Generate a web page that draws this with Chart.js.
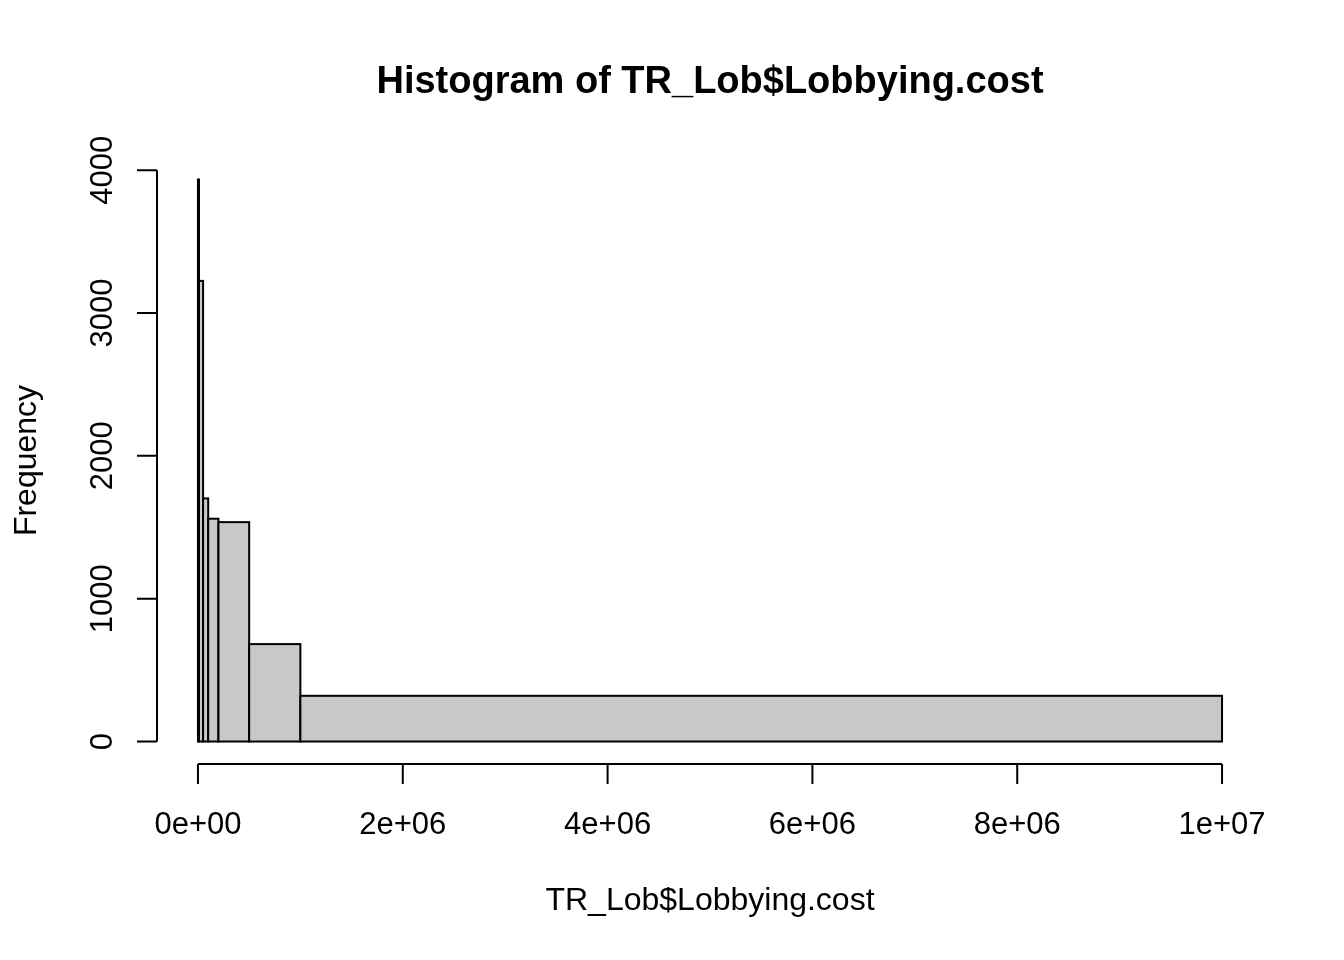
<!DOCTYPE html>
<html>
<head>
<meta charset="utf-8">
<script src="https://cdn.jsdelivr.net/npm/chart.js@4.4.0/dist/chart.umd.min.js"></script>
<style>
  html, body { margin: 0; padding: 0; background: #fff; }
  #wrap { width: 1344px; height: 960px; }
</style>
</head>
<body>
<div id="wrap"><canvas id="hist"></canvas></div>
<script>
// histogram of lobbying cost, unequal breaks (R hist style)
const breaks = [0, 10000, 50000, 100000, 200000, 500000, 1000000, 10000000];
const counts = [3935, 3225, 1702, 1560, 1536, 682, 320];
const xTicks = [0, 2e6, 4e6, 6e6, 8e6, 1e7];
const xTickLabels = ['0e+00', '2e+06', '4e+06', '6e+06', '8e+06', '1e+07'];
const yTicks = [0, 1000, 2000, 3000, 4000];

const mainTitle = 'Histogram of TR_Lob$Lobbying.cost';
const xTitle = 'TR_Lob$Lobbying.cost';
const yTitle = 'Frequency';

const FONT = '"Liberation Sans", Arial, Helvetica, sans-serif';

// R pads the range by 4% on each side
const xMin = breaks[0], xMax = breaks[breaks.length - 1];
const yMax = Math.max(...counts);
const xPad = (xMax - xMin) * 0.04, yPad = yMax * 0.04;

const histPlugin = {
    id: 'rhist',
    beforeDatasetsDraw(chart) {
        const {ctx, scales: {x, y}} = chart;
        ctx.save();
        ctx.fillStyle = '#c8c8c8';
        ctx.strokeStyle = '#000';
        ctx.lineWidth = 2;
        for (let i = 0; i < counts.length; i++) {
            const x0 = x.getPixelForValue(breaks[i]);
            const x1 = x.getPixelForValue(breaks[i + 1]);
            const y0 = y.getPixelForValue(0);
            const y1 = y.getPixelForValue(counts[i]);
            ctx.fillRect(x0, y1, x1 - x0, y0 - y1);
            ctx.strokeRect(x0, y1, x1 - x0, y0 - y1);
        }
        ctx.restore();
    },
    afterDraw(chart) {
        const {ctx, chartArea: area, scales: {x, y}} = chart;
        ctx.save();
        ctx.strokeStyle = '#000';
        ctx.fillStyle = '#000';
        ctx.lineWidth = 2;
        const tickLen = 20;

        // x axis
        const axY = area.bottom;
        ctx.beginPath();
        ctx.moveTo(x.getPixelForValue(xTicks[0]), axY);
        ctx.lineTo(x.getPixelForValue(xTicks[xTicks.length - 1]), axY);
        xTicks.forEach(v => {
            const px = x.getPixelForValue(v);
            ctx.moveTo(px, axY);
            ctx.lineTo(px, axY + tickLen);
        });
        ctx.stroke();
        ctx.font = '31px ' + FONT;
        ctx.textAlign = 'center';
        ctx.textBaseline = 'alphabetic';
        xTicks.forEach((v, i) => ctx.fillText(xTickLabels[i], x.getPixelForValue(v), 834));

        // y axis
        const axX = area.left;
        ctx.beginPath();
        ctx.moveTo(axX, y.getPixelForValue(yTicks[0]));
        ctx.lineTo(axX, y.getPixelForValue(yTicks[yTicks.length - 1]));
        yTicks.forEach(v => {
            const py = y.getPixelForValue(v);
            ctx.moveTo(axX, py);
            ctx.lineTo(axX - tickLen, py);
        });
        ctx.stroke();
        yTicks.forEach(v => {
            ctx.save();
            ctx.translate(112, y.getPixelForValue(v));
            ctx.rotate(-Math.PI / 2);
            ctx.fillText(String(v), 0, 0);
            ctx.restore();
        });

        // titles
        const midX = (area.left + area.right) / 2;
        ctx.font = 'bold 38px ' + FONT;
        ctx.fillText(mainTitle, midX, 93);
        ctx.font = '32px ' + FONT;
        ctx.fillText(xTitle, midX, 910);
        ctx.save();
        ctx.translate(36, (area.top + area.bottom) / 2);
        ctx.rotate(-Math.PI / 2);
        ctx.fillText(yTitle, 0, 0);
        ctx.restore();
        ctx.restore();
    }
};

new Chart(document.getElementById('hist'), {
    type: 'scatter',
    data: { datasets: [{ data: [] }] },
    options: {
        responsive: true,
        maintainAspectRatio: false,
        animation: false,
        events: [],
        layout: { padding: { left: 157, right: 81, top: 157, bottom: 196 } },
        plugins: { legend: { display: false }, tooltip: { enabled: false } },
        scales: {
            x: { type: 'linear', display: false, min: xMin - xPad, max: xMax + xPad },
            y: { type: 'linear', display: false, min: -yPad, max: yMax + yPad }
        }
    },
    plugins: [histPlugin]
});
</script>
</body>
</html>
